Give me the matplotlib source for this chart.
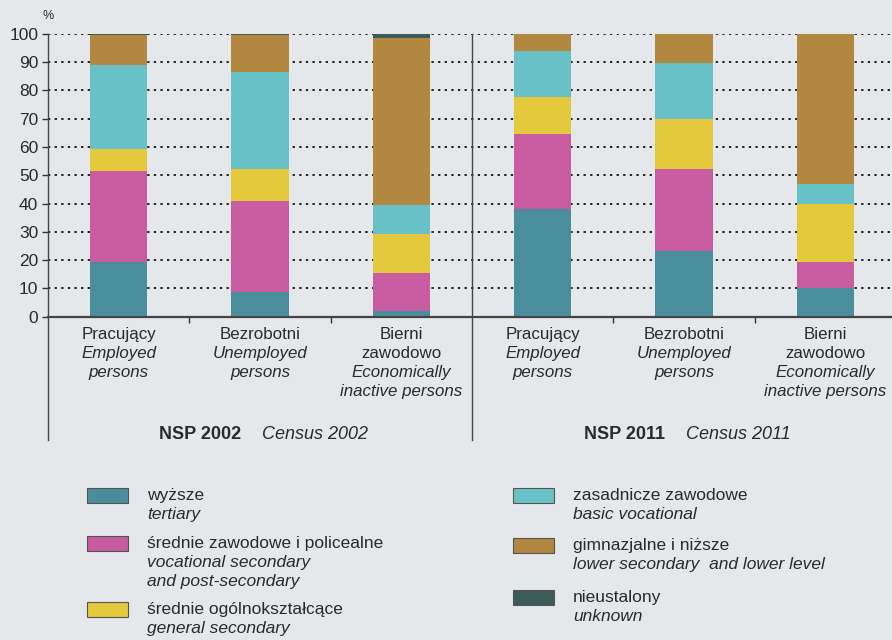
import matplotlib
matplotlib.use("Agg")
import matplotlib.pyplot as plt
from matplotlib.patches import Rectangle
from matplotlib.transforms import blended_transform_factory
import numpy as np

plt.rcParams['font.family'] = ['Liberation Sans', 'DejaVu Sans']

# ---- data ----
categories_pl = [["Pracujący"], ["Bezrobotni"], ["Bierni", "zawodowo"],
                 ["Pracujący"], ["Bezrobotni"], ["Bierni", "zawodowo"]]
categories_en = [["Employed", "persons"], ["Unemployed", "persons"], ["Economically", "inactive persons"],
                 ["Employed", "persons"], ["Unemployed", "persons"], ["Economically", "inactive persons"]]
groups = [("NSP 2002", "Census 2002"), ("NSP 2011", "Census 2011")]

series_pl = ["wyższe", "średnie zawodowe i policealne", "średnie ogólnokształcące",
             "zasadnicze zawodowe", "gimnazjalne i niższe", "nieustalony"]
series_en = [["tertiary"], ["vocational secondary", "and post-secondary"], ["general secondary"],
             ["basic vocational"], ["lower secondary  and lower level"], ["unknown"]]

tertiary         = [19.4, 8.8, 2.1, 38.0, 23.2, 10.1]
voc_secondary    = [32.2, 32.1, 13.2, 26.5, 29.1, 9.3]
gen_secondary    = [7.5, 11.2, 14.0, 13.0, 17.4, 20.6]
basic_vocational = [29.9, 34.5, 10.3, 16.5, 19.8, 6.8]
lower_secondary  = [10.6, 13.0, 59.0, 6.0, 10.5, 53.2]
unknown          = [0.4, 0.4, 1.4, 0.0, 0.0, 0.0]

yticks = [0, 10, 20, 30, 40, 50, 60, 70, 80, 90, 100]

series = [tertiary, voc_secondary, gen_secondary, basic_vocational, lower_secondary, unknown]
colors = ['#4a8e9d', '#c75ca0', '#e4c93d', '#69c1c8', '#b2873f', '#3c5b57']

BG = '#e5e8eb'
TXT = '#2a2a2a'

fig = plt.figure(figsize=(8.92, 6.40), dpi=100, facecolor=BG)
W, H = 892, 640
ax = fig.add_axes([48 / W, 1 - 316.7 / H, 848 / W, (316.7 - 33.7) / H])
ax.set_facecolor('none')

x = np.arange(len(tertiary))
bottom = np.zeros(len(x))
for vals, c in zip(series, colors):
    ax.bar(x, vals, width=0.405, bottom=bottom, color=c, zorder=3, linewidth=0)
    bottom += np.array(vals)

ax.set_xlim(-0.5, 5.5)
ax.set_ylim(0, 100)
ax.set_yticks(yticks)
ax.set_yticklabels([str(t) for t in yticks], fontsize=12.5, color=TXT)
ax.yaxis.grid(True, linestyle=(0, (1.2, 2.2)), color='#222222', linewidth=1.4, zorder=1)
ax.tick_params(axis='y', length=4, width=1, color='#333333', pad=3, direction='out')
ax.set_xticks([])
ax.set_xticks([0.5, 1.5, 3.5, 4.5], minor=True)
ax.tick_params(axis='x', which='minor', length=4, width=1, color='#333333', direction='out')

for s in ['top', 'right', 'left']:
    ax.spines[s].set_visible(False)
ax.spines['bottom'].set_color('#444444')
ax.spines['bottom'].set_linewidth(1.6)
ax.spines['bottom'].set_zorder(4)

# vertical frame lines (left axis & separator) extending below the axis
yb = -(440 - 316.7) / (316.7 - 33.7)
tr = blended_transform_factory(ax.transData, ax.transAxes)
for xv in [-0.5, 2.5]:
    ax.plot([xv, xv], [1.0, yb], transform=tr, color='#444444', linewidth=1.0,
            clip_on=False, zorder=4)

ax.text(-0.5, 1.04, "%", transform=tr, fontsize=9, color=TXT, ha='center', va='bottom')

# category labels
trf = blended_transform_factory(ax.transData, fig.transFigure)
baselines = [339, 358, 377, 396]
for i in range(len(x)):
    lines = [(t, 'normal') for t in categories_pl[i]] + [(t, 'italic') for t in categories_en[i]]
    for k, (t, st) in enumerate(lines):
        ax.text(x[i], 1 - baselines[k] / H, t, transform=trf, ha='center', va='baseline',
                fontsize=12.2, style=st, color=TXT)

# group labels
for g, (pl, en) in enumerate(groups):
    cx = 1.0 + 3 * g
    ax.text(cx - 0.134, 1 - 439 / H, pl, transform=trf, ha='right', va='baseline',
            fontsize=13, fontweight='bold', color=TXT)
    ax.text(cx + 0.015, 1 - 439 / H, en, transform=trf, ha='left', va='baseline',
            fontsize=13, style='italic', color=TXT)

# legend
def legend_item(xb, yb_top, color, pl, en_lines):
    fig.patches.append(Rectangle((xb / W, 1 - (yb_top + 15) / H), 41 / W, 15 / H,
                                 transform=fig.transFigure, facecolor=color,
                                 edgecolor='#555555', linewidth=0.8))
    tx = xb + 60
    fig.text(tx / W, 1 - (yb_top + 12) / H, pl, fontsize=12.5, color=TXT, va='baseline')
    for k, t in enumerate(en_lines):
        fig.text(tx / W, 1 - (yb_top + 12 + 19 * (k + 1)) / H, t, fontsize=12.5,
                 style='italic', color=TXT, va='baseline')

legend_item(87, 488, colors[0], series_pl[0], series_en[0])
legend_item(87, 536, colors[1], series_pl[1], series_en[1])
legend_item(87, 602, colors[2], series_pl[2], series_en[2])
legend_item(513, 488, colors[3], series_pl[3], series_en[3])
legend_item(513, 538, colors[4], series_pl[4], series_en[4])
legend_item(513, 590, colors[5], series_pl[5], series_en[5])

fig.savefig("out.png", dpi=100, facecolor=BG)
